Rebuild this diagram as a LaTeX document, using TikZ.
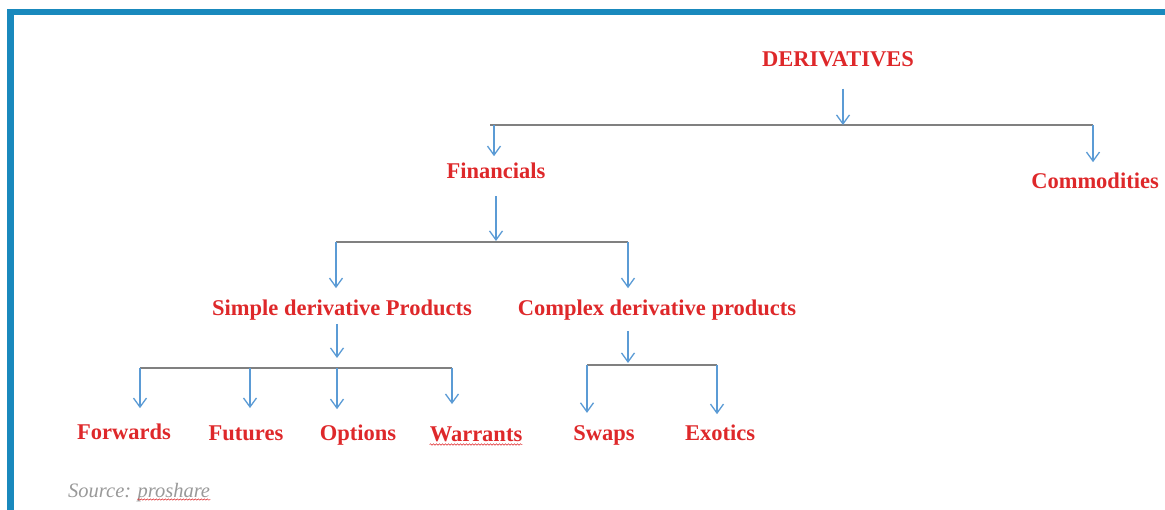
\documentclass[tikz,border=0pt]{standalone}
\usepackage{fontspec}
\setmainfont{Liberation Serif}
\usetikzlibrary{arrows.meta,decorations.pathmorphing}
\definecolor{lblred}{RGB}{222,40,42}
\definecolor{arrblue}{RGB}{91,155,213}
\definecolor{bargray}{RGB}{128,128,128}
\definecolor{frameblue}{RGB}{25,137,189}
\begin{document}
\begin{tikzpicture}[x=1pt, y=-1pt,
    lbl/.style = {text=lblred, font=\bfseries\fontsize{22.5}{26}\selectfont, inner sep=0pt, anchor=base},
    src/.style = {text=gray!80, font=\itshape\fontsize{20.5}{24}\selectfont, inner sep=0pt, anchor=base west},
    arr/.style = {draw=arrblue, line width=1.3pt, -{Straight Barb[length=9pt,width=13pt]}},
    bar/.style = {draw=bargray, line width=2.8pt},
    wavy/.style = {draw=lblred, line width=0.5pt, decorate, decoration={snake, amplitude=0.7pt, segment length=3pt}}]
    \useasboundingbox (0,0) rectangle (1165,510);
    \draw[frameblue, line width=6.5pt] (10.5,510) -- (10.5,12) -- (1165,12);

    \node[lbl] (0) at (838,67) {DERIVATIVES};
    \node[lbl] (1) at (496,179) {Financials};
    \node[lbl] (2) at (1095,189) {Commodities};
    \node[lbl] (3) at (342,316) {Simple derivative Products};
    \node[lbl] (4) at (657,316) {Complex derivative products};
    \node[lbl] (5) at (124,440) {Forwards};
    \node[lbl] (6) at (246,441) {Futures};
    \node[lbl] (7) at (358,441) {Options};
    \node[lbl] (8) at (476,442) {Warrants};
    \node[lbl] (9) at (604,441) {Swaps};
    \node[lbl] (10) at (720,441) {Exotics};
    \node[src] (s1) at (68,497) {Source:};
    \node[src] (s2) at ([xshift=6pt]s1.base east) {proshare};

    % bars
    \coordinate (b1l) at (490,125); \coordinate (b1m) at (843,125); \coordinate (b1r) at (1093,125);
    \coordinate (b2l) at (336,242); \coordinate (b2m) at (496,242); \coordinate (b2r) at (628,242);
    \coordinate (b3l) at (140,368); \coordinate (b3m) at (337,368); \coordinate (b3r) at (452,368);
    \coordinate (b4l) at (587,365); \coordinate (b4m) at (628,365); \coordinate (b4r) at (717,365);
    \draw[bar] (b1l) -- (b1r);
    \draw[bar] (b2l) -- (b2r);
    \draw[bar] (b3l) -- (b3r);
    \draw[bar] (b4l) -- (b4r);

    % drops into the bars
    \draw[arr, shorten <=21pt] (0.south -| b1m) -- (b1m);
    \draw[arr, shorten <=17pt, shorten >=1pt] (1.south -| b2m) -- (b2m);
    \draw[arr, shorten <=3pt, shorten >=10pt] (3.south -| b3m) -- (b3m);
    \draw[arr, shorten <=10pt, shorten >=2pt] (4.south -| b4m) -- (b4m);

    % branches
    \draw[arr, shorten >=7pt] ([xshift=4pt]b1l) -- ([xshift=4pt]b1l |- 1.north);
    \draw[arr, shorten >=11pt] (b1r) -- (b1r |- 2.north);
    \draw[arr, shorten >=12pt] (b2l) -- (b2l |- 3.north);
    \draw[arr, shorten >=12pt] (b2r) -- (b2r |- 4.north);
    \draw[arr, shorten >=16pt] (b3l) -- (b3l |- 5.north);
    \draw[arr, shorten >=18pt] ([xshift=110pt]b3l) -- ([xshift=110pt]b3l |- 6.north);
    \draw[arr, shorten >=16pt] (b3m) -- (b3m |- 7.north);
    \draw[arr, shorten >=23pt] (b3r) -- (b3r |- 8.north);
    \draw[arr, shorten >=13pt] (b4l) -- (b4l |- 9.north);
    \draw[arr, shorten >=11pt] (b4r) -- (b4r |- 10.north);

    % spell-check marks
    \draw[wavy] ([yshift=-2.5pt]8.base west) -- ([yshift=-2.5pt]8.base east);
    \draw[wavy] ([yshift=-2.5pt]s2.base west) -- ([yshift=-2.5pt]s2.base east);
\end{tikzpicture}
\end{document}
